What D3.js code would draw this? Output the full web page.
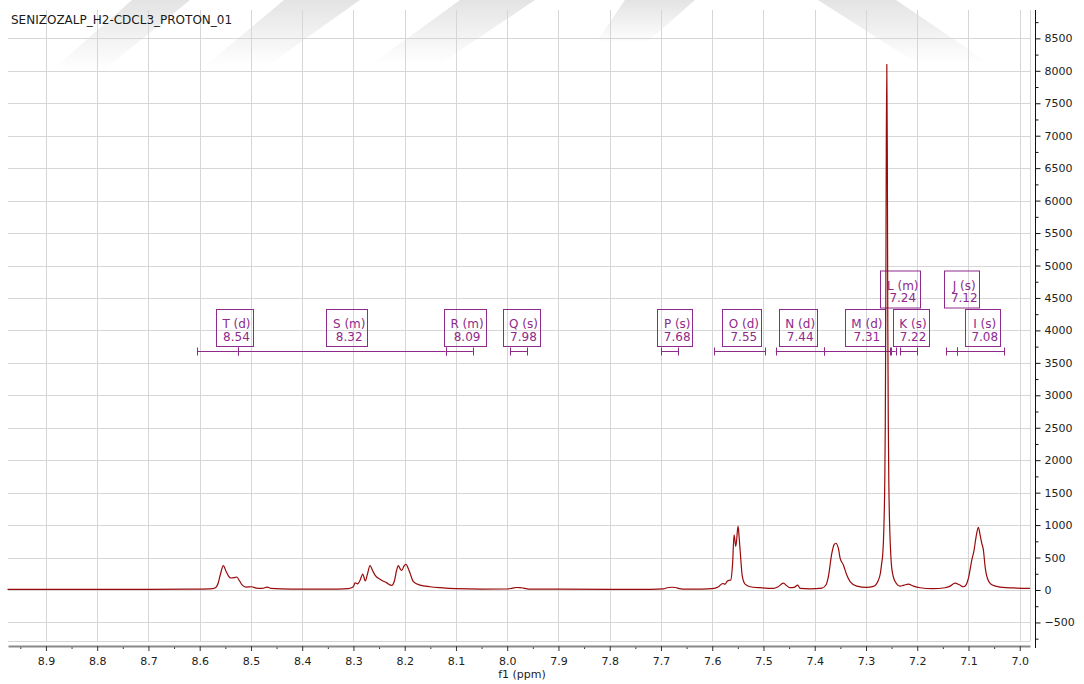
<!DOCTYPE html>
<html>
<head>
<meta charset="utf-8">
<script src="https://cdn.jsdelivr.net/npm/d3@7"></script>
<style>
  html, body { margin: 0; padding: 0; background: #fff; }
  svg { display: block; font-family: "DejaVu Sans", Verdana, sans-serif; }
</style>
</head>
<body>
<svg id="chart" width="1084" height="684"></svg>
<script>
// ---- Data ------------------------------------------------------------
const spectrumTitle = "SENIZOZALP_H2-CDCL3_PROTON_01";
const axisTitle = "f1 (ppm)";

// 1H spectrum trace: chemical shift (ppm) and intensity
const shifts = [
  8.975, 8.90, 8.80, 8.70, 8.62, 8.58,
  8.570, 8.5642, 8.5593, 8.5539, 8.5486, 8.5437, 8.5388, 8.5330, 8.5277, 8.5222, 8.5174, 8.5096,
  8.4984, 8.4900, 8.4783, 8.4680, 8.4608, 8.44, 8.40, 8.35, 8.31,
  8.3002, 8.2969, 8.2920, 8.2871, 8.2819, 8.2768, 8.2725, 8.2676, 8.2627, 8.2579, 8.2481, 8.2350,
  8.2253, 8.2198, 8.2159, 8.2124, 8.2091, 8.2058, 8.2013, 8.1974, 8.1935, 8.1896, 8.1831, 8.1700,
  8.1505, 8.1310, 8.10, 8.05, 8.00,
  7.990, 7.982, 7.975, 7.968, 7.955, 7.90, 7.80, 7.72,
  7.695, 7.688, 7.680, 7.672, 7.664, 7.65, 7.62, 7.60,
  7.5886, 7.5794, 7.5749, 7.5704, 7.5638, 7.5603, 7.5574, 7.5540, 7.5496, 7.5476, 7.5456, 7.5412,
  7.5359, 7.5261, 7.5066, 7.48,
  7.4715, 7.4612, 7.4539, 7.4481, 7.4403, 7.4331, 7.4286, 7.4091,
  7.3857, 7.3778, 7.3734, 7.3667, 7.3622, 7.3589, 7.3538, 7.3505, 7.3441, 7.3375, 7.3310, 7.3180,
  7.2984, 7.2856, 7.2758, 7.2721, 7.2692,
  7.2672, 7.2653, 7.2633, 7.2623, 7.2614, 7.2604, 7.2594, 7.2584, 7.2575, 7.2565, 7.2555, 7.2535,
  7.2516, 7.2496, 7.2432, 7.2335, 7.2257, 7.2173, 7.2075, 7.1945, 7.17,
  7.1456, 7.1359, 7.1262, 7.1178, 7.1099, 7.1047, 7.1002, 7.0936, 7.0891, 7.0852, 7.0807, 7.0774,
  7.0741, 7.0709, 7.0676, 7.0631, 7.0545, 7.0383, 7.0058, 6.98
];
const intensities = [
  10, 10, 11, 10, 12, 16,
  30, 100, 250, 375, 290, 215, 185, 190, 200, 140, 80, 45,
  50, 30, 25, 45, 25, 16, 12, 12, 22,
  50, 110, 95, 150, 245, 140, 250, 375, 300, 230, 165, 110,
  70, 150, 300, 375, 330, 300, 370, 395, 340, 260, 130, 75,
  50, 35, 20, 14, 15,
  28, 38, 35, 28, 14, 12, 10, 11,
  18, 35, 42, 38, 22, 12, 14, 20,
  45, 100, 90, 140, 155, 400, 850, 670, 985, 820, 615, 205,
  90, 50, 35, 25,
  50, 105, 60, 35, 40, 75, 25, 18,
  30, 80, 205, 565, 700, 720, 640, 490, 385, 230, 130, 60,
  40, 55, 150, 250, 420,
  560, 900, 1700, 2600, 4200, 6800, 8100, 6800, 4200, 2600, 1700, 900,
  540, 330, 130, 60, 75, 90, 60, 35, 20,
  35, 60, 105, 80, 50, 80, 180, 460, 615, 820, 965, 850,
  720, 615, 360, 180, 80, 45, 30, 25
];

// Axis ticks
const xTickValues = [8.9, 8.8, 8.7, 8.6, 8.5, 8.4, 8.3, 8.2, 8.1, 8.0, 7.9, 7.8, 7.7, 7.6, 7.5, 7.4, 7.3, 7.2, 7.1, 7.0];
const yTickValues = [-500, 0, 500, 1000, 1500, 2000, 2500, 3000, 3500, 4000, 4500, 5000, 5500, 6000, 6500, 7000, 7500, 8000, 8500];

// Multiplet analysis
const multipletNames  = ["T", "S", "R", "Q", "P", "O", "N", "M", "L", "K", "J", "I"];
const multipletTypes  = ["d", "m", "m", "s", "s", "d", "d", "d", "m", "s", "s", "s"];
const multipletShifts = [8.54, 8.32, 8.09, 7.98, 7.68, 7.55, 7.44, 7.31, 7.24, 7.22, 7.12, 7.08];
const rangeFrom = [8.605, 8.526, 8.120, 7.994, 7.700, 7.596, 7.476, 7.381, 7.252, 7.234, 7.143, 7.122];
const rangeTo   = [8.526, 8.120, 8.067, 7.961, 7.666, 7.497, 7.381, 7.253, 7.242, 7.200, 7.122, 7.030];

// ---- Layout -------------------------------------------------------------
const svg = d3.select("#chart");
const plot = { left: 8, right: 1030, top: 10, bottom: 641 };
const gridColor = "#d6d6d6";
const traceColor = "#990a0a";
const labelColor = "#8e2a8c";

const x = d3.scaleLinear().domain([8.974, 6.98]).range([plot.left, plot.right]);
const y = d3.scaleLinear().domain([-786, 8937]).range([plot.bottom, plot.top]);
const crisp = v => Math.round(v) + 0.5;

// Faint watermark strokes along the top edge
const defs = svg.append("defs");
const grad = defs.append("linearGradient").attr("id", "wm").attr("x1", 0).attr("y1", 0).attr("x2", 0).attr("y2", 1);
grad.append("stop").attr("offset", "0%").attr("stop-color", "#c8c8c8").attr("stop-opacity", 0.5);
grad.append("stop").attr("offset", "100%").attr("stop-color", "#c8c8c8").attr("stop-opacity", 0);
const wmShapes = [
  [[132, 0], [190, 0], [104, 70], [52, 70]],
  [[284, 0], [360, 0], [267, 66], [205, 66]],
  [[460, 0], [535, 0], [440, 64], [372, 64]],
  [[625, 0], [695, 0], [645, 44], [595, 44]],
  [[818, 0], [896, 0], [990, 64], [918, 64]]
];
svg.append("g").attr("class", "watermark").selectAll("polygon").data(wmShapes).join("polygon")
  .attr("points", d => d.map(p => p.join(",")).join(" "))
  .attr("fill", "url(#wm)");

// Grid
const grid = svg.append("g").attr("class", "grid");
grid.selectAll("line.v").data(xTickValues).join("line")
  .attr("x1", d => crisp(x(d))).attr("x2", d => crisp(x(d)))
  .attr("y1", plot.top).attr("y2", plot.bottom)
  .attr("stroke", gridColor).attr("stroke-width", 1);
grid.selectAll("line.h").data(yTickValues).join("line")
  .attr("x1", plot.left).attr("x2", plot.right)
  .attr("y1", d => crisp(y(d))).attr("y2", d => crisp(y(d)))
  .attr("stroke", gridColor).attr("stroke-width", 1);
// plot frame (right and bottom)
grid.append("line").attr("x1", plot.right + 0.5).attr("x2", plot.right + 0.5)
  .attr("y1", plot.top).attr("y2", plot.bottom).attr("stroke", gridColor);
grid.append("line").attr("x1", plot.left).attr("x2", plot.right)
  .attr("y1", plot.bottom + 0.5).attr("y2", plot.bottom + 0.5).attr("stroke", gridColor);

// Title
svg.append("text")
  .attr("x", 11).attr("y", 24)
  .attr("font-size", 12).attr("fill", "#1a1a1a")
  .text(spectrumTitle);

// X axis
const xAxisY = 646;
const xMinor = xTickValues.map(v => v + 0.05).filter(v => v <= 8.974 && v >= 6.98);
const gxMinor = svg.append("g").attr("transform", `translate(0,${xAxisY})`)
  .call(d3.axisBottom(x).tickValues(xMinor).tickSize(3).tickFormat(""));
gxMinor.select(".domain").remove();
gxMinor.selectAll(".tick line").attr("stroke", "#333");
const gx = svg.append("g").attr("transform", `translate(0,${xAxisY})`)
  .call(d3.axisBottom(x).tickValues(xTickValues).tickSize(5).tickSizeOuter(0)
    .tickPadding(6).tickFormat(d3.format(".1f")));
gx.select(".domain").attr("stroke", "#8a8a8a").attr("stroke-width", 2);
gx.selectAll(".tick line").attr("stroke", "#333");
gx.selectAll(".tick text").attr("font-size", 11).attr("fill", "#222")
  .attr("font-family", "'DejaVu Sans', Verdana, sans-serif");
svg.append("text")
  .attr("x", (plot.left + plot.right) / 2 + 3).attr("y", 678)
  .attr("text-anchor", "middle").attr("font-size", 11).attr("fill", "#222")
  .text(axisTitle);

// Y axis (right side)
const yAxisX = 1035.5;
const yMinor = yTickValues.map(v => v + 250).concat([-750]);
const gyMinor = svg.append("g").attr("transform", `translate(${yAxisX},0)`)
  .call(d3.axisRight(y).tickValues(yMinor).tickSize(3).tickFormat(""));
gyMinor.select(".domain").remove();
gyMinor.selectAll(".tick line").attr("stroke", "#111");
const gy = svg.append("g").attr("transform", `translate(${yAxisX},0)`)
  .call(d3.axisRight(y).tickValues(yTickValues).tickSize(5).tickPadding(4).tickFormat(d3.format("d")));
gy.select(".domain").remove();
gy.selectAll(".tick line").attr("stroke", "#111");
gy.selectAll(".tick text").attr("font-size", 11).attr("fill", "#222")
  .attr("font-family", "'DejaVu Sans', Verdana, sans-serif");
svg.append("line").attr("x1", yAxisX).attr("x2", yAxisX)
  .attr("y1", plot.top).attr("y2", 648).attr("stroke", "#111").attr("stroke-width", 1);

// Multiplet integration bars
const barY = 351.5;
const bars = svg.append("g").attr("class", "multiplet-bars")
  .attr("stroke", labelColor).attr("stroke-width", 1).attr("fill", "none");
multipletNames.forEach((n, i) => {
  const x0 = x(rangeFrom[i]), x1 = x(rangeTo[i]);
  bars.append("line").attr("x1", x0).attr("x2", x1).attr("y1", barY).attr("y2", barY);
  [x0, x1].forEach(xx => bars.append("line")
    .attr("x1", crisp(xx)).attr("x2", crisp(xx)).attr("y1", barY - 4).attr("y2", barY + 4));
});

// Multiplet labels: two-line boxes, lifted to an upper row when they collide
const labelsG = svg.append("g").attr("class", "multiplet-labels");
const probe = svg.append("text").attr("font-size", 12);
const measure = s => { probe.text(s); return probe.node().getComputedTextLength(); };
const boxH = 37, lowerTop = 309.5, rowStep = 38.5;
const order = d3.range(multipletNames.length).sort((a, b) => multipletShifts[a] - multipletShifts[b]);
const rows = [[], []];
const placed = [];
order.forEach(i => {
  const line1 = `${multipletNames[i]} (${multipletTypes[i]})`;
  const line2 = multipletShifts[i].toFixed(2);
  const w = Math.max(measure(line1), measure(line2));
  const tc = x(multipletShifts[i]) + 6;
  const left = tc - w / 2 - 6.5, right = tc + w / 2 + 2;
  let row = 0;
  while (rows[row].some(b => !(right < b.left - 1 || left > b.right + 1))) row++;
  rows[row].push({ left, right });
  placed.push({ i, line1, line2, tc, left, right, row });
});
probe.remove();
placed.forEach(p => {
  const top = lowerTop - p.row * rowStep;
  const g = labelsG.append("g");
  g.append("rect")
    .attr("x", Math.round(p.left) + 0.5).attr("y", top)
    .attr("width", Math.round(p.right - p.left)).attr("height", boxH)
    .attr("fill", "none").attr("stroke", labelColor).attr("stroke-width", 1);
  g.append("text").attr("x", p.tc).attr("y", top + 18.5)
    .attr("text-anchor", "middle").attr("font-size", 12).attr("fill", labelColor).text(p.line1);
  g.append("text").attr("x", p.tc).attr("y", top + 31)
    .attr("text-anchor", "middle").attr("font-size", 12).attr("fill", labelColor).text(p.line2);
});

// Spectrum trace
const trace = shifts.map((s, i) => [s, intensities[i]]);
svg.append("path")
  .datum(trace)
  .attr("fill", "none")
  .attr("stroke", traceColor)
  .attr("stroke-width", 1.2)
  .attr("stroke-linejoin", "round")
  .attr("d", d3.line().x(d => x(d[0])).y(d => y(d[1])).curve(d3.curveMonotoneX));
</script>
</body>
</html>
